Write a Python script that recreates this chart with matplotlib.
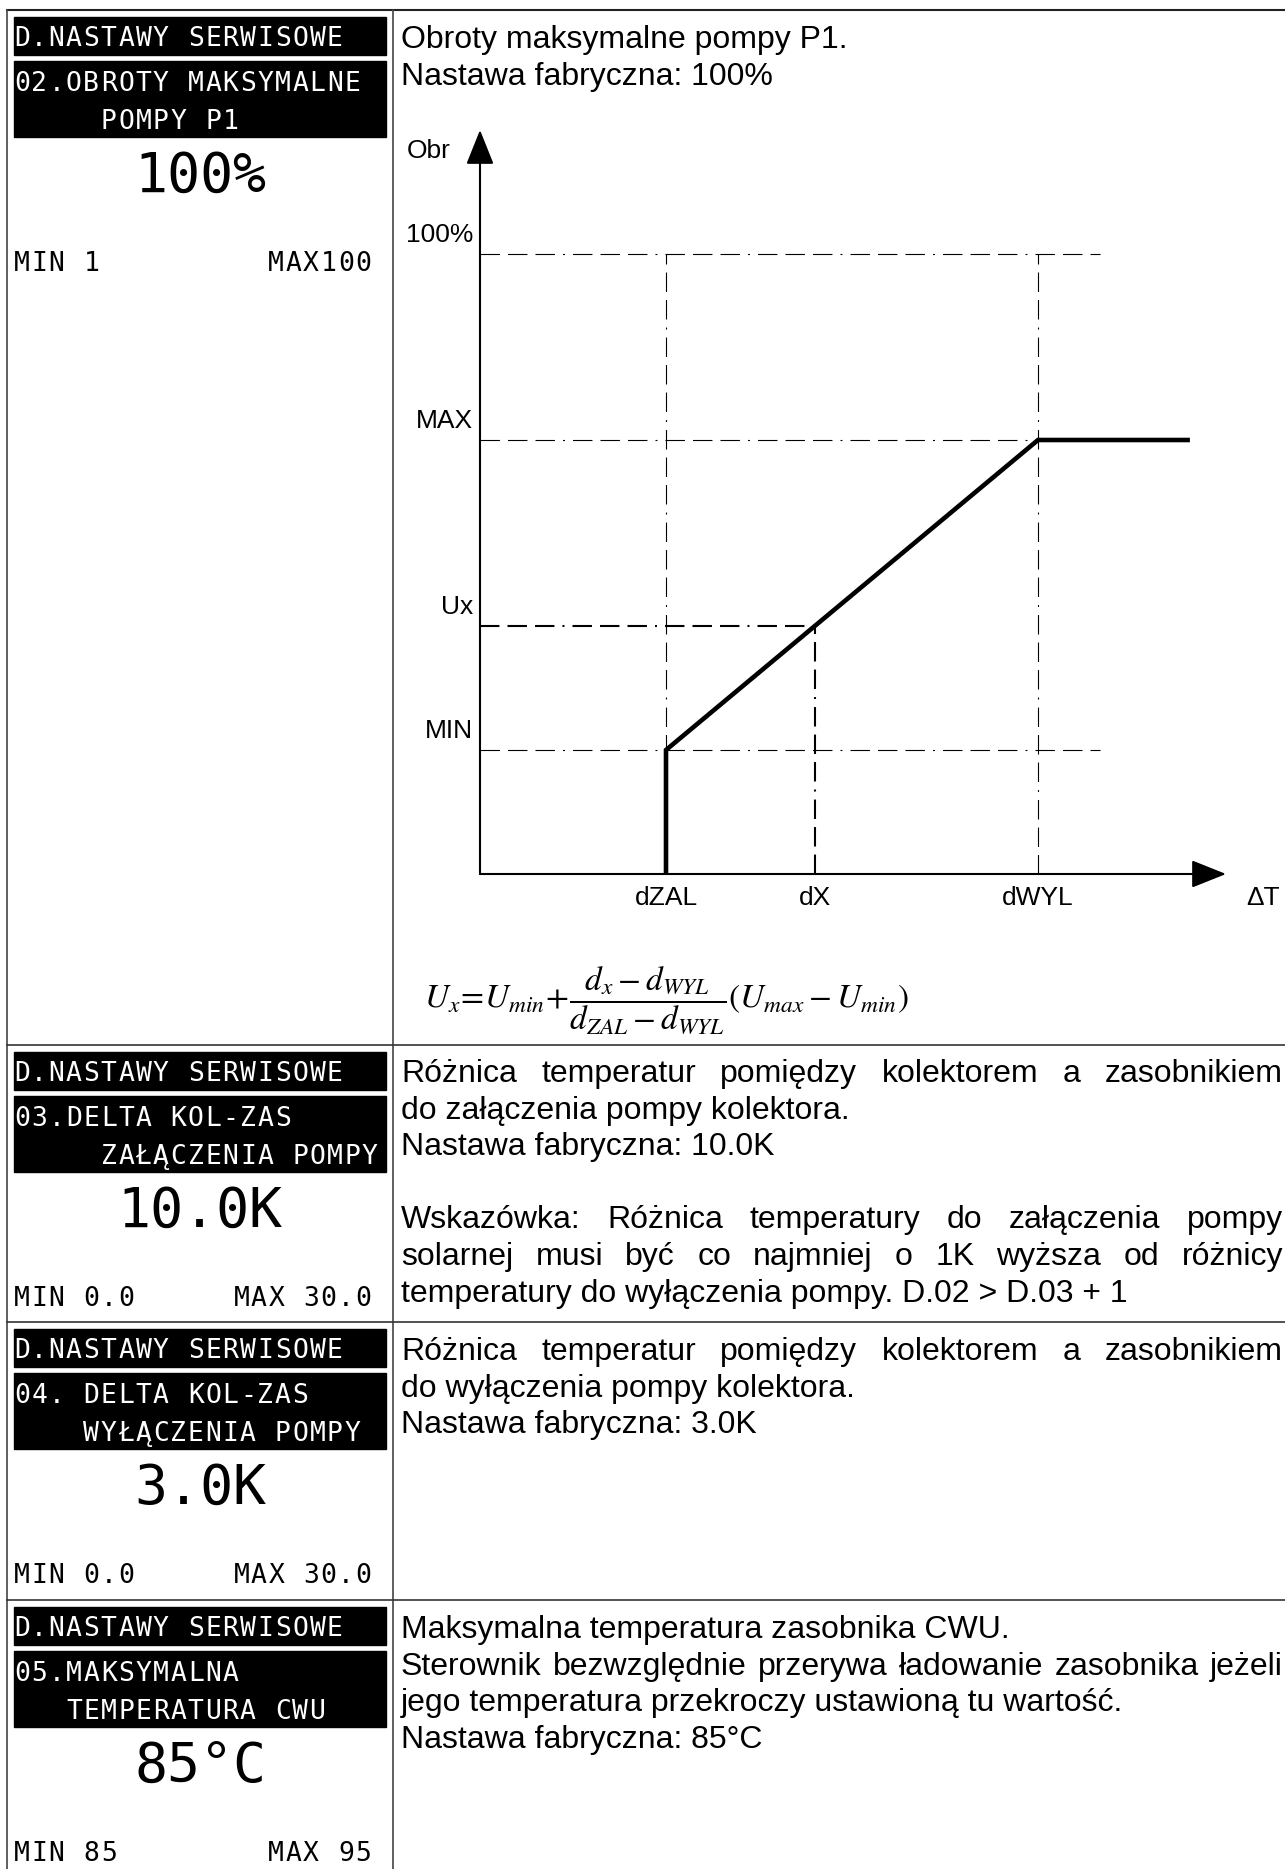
import matplotlib
matplotlib.use('Agg')
import matplotlib.pyplot as plt
from matplotlib.patches import Rectangle
from matplotlib import transforms

W, H, DPI = 1285, 1869, 100

plt.rcParams['font.family'] = ['Liberation Sans', 'DejaVu Sans']
plt.rcParams['mathtext.fontset'] = 'stix'
plt.rcParams['lines.scale_dashes'] = False

# left column: controller screens
header = 'D.NASTAWY SERWISOWE'
param_names = [
    ['02.OBROTY MAKSYMALNE', '     POMPY P1'],
    ['03.DELTA KOL-ZAS', '     ZAŁĄCZENIA POMPY'],
    ['04. DELTA KOL-ZAS', '    WYŁĄCZENIA POMPY'],
    ['05.MAKSYMALNA', '   TEMPERATURA CWU'],
]
param_values = ['100%', '10.0K', '3.0K', '85°C']
param_min = ['MIN 1', 'MIN 0.0', 'MIN 0.0', 'MIN 85']
param_max = ['MAX100', 'MAX 30.0', 'MAX 30.0', 'MAX 95']

# right column: descriptions
desc_lines = [
    ['Obroty maksymalne pompy P1.',
     'Nastawa fabryczna: 100%'],
    ['Różnica temperatur pomiędzy kolektorem a zasobnikiem',
     'do załączenia pompy kolektora.',
     'Nastawa fabryczna: 10.0K',
     '',
     'Wskazówka: Różnica temperatury do załączenia pompy',
     'solarnej musi być co najmniej o 1K wyższa od różnicy',
     'temperatury do wyłączenia pompy. D.02 > D.03 + 1'],
    ['Różnica temperatur pomiędzy kolektorem a zasobnikiem',
     'do wyłączenia pompy kolektora.',
     'Nastawa fabryczna: 3.0K'],
    ['Maksymalna temperatura zasobnika CWU.',
     'Sterownik bezwzględnie przerywa ładowanie zasobnika jeżeli',
     'jego temperatura przekroczy ustawioną tu wartość.',
     'Nastawa fabryczna: 85°C'],
]
desc_justified = [[], [0, 4, 5], [0], [1]]

# characteristic of pump speed
x_names = ['dZAL', 'dX', 'dWYL']
x_marks = [30, 54, 90]
y_names = ['MIN', 'Ux', 'MAX', '100%']
y_levels = [20, 40, 70, 100]
x_flat_end = 114.5

# layout (pixels)
row_tops = [10, 1045, 1322, 1600]
first_baselines = [48, 1082, 1360, 1638]
LINE = 36.6
PITCH = 17.4
MONO_FS = 19

fig = plt.figure(figsize=(W / DPI, H / DPI), dpi=DPI)
page = fig.add_axes([0, 0, 1, 1])
page.set_xlim(0, W)
page.set_ylim(H, 0)
page.axis('off')

# table grid
page.plot([7, W], [10, 10], color='#222222', lw=1.5)
page.plot([7, 7], [10, H], color='#444444', lw=1.2)
page.plot([392.5, 392.5], [10, H], color='#444444', lw=1.2)
for top in row_tops[1:]:
    page.plot([7, W], [top, top], color='#333333', lw=1.2)


def mono(x0, y, s, color='black'):
    # fixed pitch, display-like spacing
    for i, ch in enumerate(s):
        if ch != ' ':
            page.text(x0 + (i + 0.5) * PITCH, y, ch, ha='center', va='baseline',
                      family='DejaVu Sans Mono', fontsize=MONO_FS, color=color)


for k, top in enumerate(row_tops):
    page.add_patch(Rectangle((14, top + 7), 372, 38, color='black'))
    page.add_patch(Rectangle((14, top + 51), 372, 76, color='black'))
    mono(13, top + 36, header, 'white')
    mono(13, top + 81, param_names[k][0], 'white')
    mono(13, top + 119, param_names[k][1], 'white')
    page.text(200, top + 182, param_values[k], ha='center', va='baseline',
              family='DejaVu Sans Mono', fontsize=39.5)
    mono(13, top + 261, param_min[k])
    mono(372 - len(param_max[k]) * PITCH, top + 261, param_max[k])

fig.canvas.draw()
rend = fig.canvas.get_renderer()
X0, X1 = 401, 1283
FS = 23


def text_width(s):
    t = page.text(0, 0, s, fontsize=FS)
    w = t.get_window_extent(rend).width
    t.remove()
    return w


for k, lines in enumerate(desc_lines):
    for j, line in enumerate(lines):
        if not line:
            continue
        y = first_baselines[k] + j * LINE
        if j in desc_justified[k]:
            words = line.split()
            widths = [text_width(w) for w in words]
            gap = (X1 - X0 - sum(widths)) / (len(words) - 1)
            x = X0
            for w, wd in zip(words, widths):
                page.text(x, y, w, fontsize=FS, va='baseline')
                x += wd + gap
        else:
            page.text(X0, y, line, fontsize=FS, va='baseline')

# formula
page.text(424, 1008,
          r'$U_x\!=\!U_{min}\!+\!\dfrac{d_x-d_{WYL}}{d_{ZAL}-d_{WYL}}\left(U_{max}-U_{min}\right)$',
          fontsize=24, va='baseline')

# chart
ax = fig.add_axes([480 / W, 1 - 874 / H, 746 / W, 744 / H])
ax.set_xlim(0, 746 / 6.2)
ax.set_ylim(0, 120)
ax.axis('off')
xmax, ymax = ax.get_xlim()[1], ax.get_ylim()[1]

dash = (0, (14, 5.8, 14, 5.8, 14, 5.8, 1.4, 5.8))
MIN, UX, MAX, TOP = y_levels
dZAL, dX, dWYL = x_marks

# guide lines
ax.plot([0, 100], [TOP, TOP], color='black', lw=0.8, linestyle=dash, clip_on=False)
ax.plot([0, dWYL], [MAX, MAX], color='black', lw=0.8, linestyle=dash, clip_on=False)
ax.plot([0, dX], [UX, UX], color='black', lw=1.5, linestyle=dash, clip_on=False)
ax.plot([0, 100], [MIN, MIN], color='black', lw=0.8, linestyle=dash, clip_on=False)
ax.plot([dZAL, dZAL], [0, TOP], color='black', lw=0.8, linestyle=dash, clip_on=False)
ax.plot([dX, dX], [0, UX], color='black', lw=1.5, linestyle=dash, clip_on=False)
ax.plot([dWYL, dWYL], [0, TOP], color='black', lw=0.8, linestyle=dash, clip_on=False)

# characteristic
ax.plot([dZAL, dZAL, dWYL, x_flat_end], [0, MIN, MAX, MAX], color='black', lw=3.3,
        solid_capstyle='butt', solid_joinstyle='miter', clip_on=False, zorder=4)

# axes arrows
arr = dict(arrowstyle='-|>,head_length=0.8,head_width=0.32', mutation_scale=27,
           lw=1.5, color='black', shrinkA=0, shrinkB=0)
ax.annotate('', xy=(0, ymax), xytext=(0, 0), arrowprops=arr, annotation_clip=False)
ax.annotate('', xy=(xmax, 0), xytext=(0, 0), arrowprops=arr, annotation_clip=False)

ylab_tr = transforms.offset_copy(ax.transData, fig=fig, x=-7, y=12, units='dots')
for name, lvl in zip(y_names, y_levels):
    ax.text(0, lvl, name, transform=ylab_tr, ha='right', va='baseline', fontsize=19)
xlab_tr = transforms.offset_copy(ax.transData, fig=fig, x=0, y=-31, units='dots')
for name, xm in zip(x_names, x_marks):
    ax.text(xm, 0, name, transform=xlab_tr, ha='center', va='baseline', fontsize=19)
ax.text(xmax, 0, 'ΔT', transform=transforms.offset_copy(ax.transData, fig=fig, x=20, y=-31, units='dots'),
        ha='left', va='baseline', fontsize=19)
ax.text(0, ymax, 'Obr', transform=transforms.offset_copy(ax.transData, fig=fig, x=-73, y=-28, units='dots'),
        ha='left', va='baseline', fontsize=19)

fig.savefig('out.png', dpi=DPI)
